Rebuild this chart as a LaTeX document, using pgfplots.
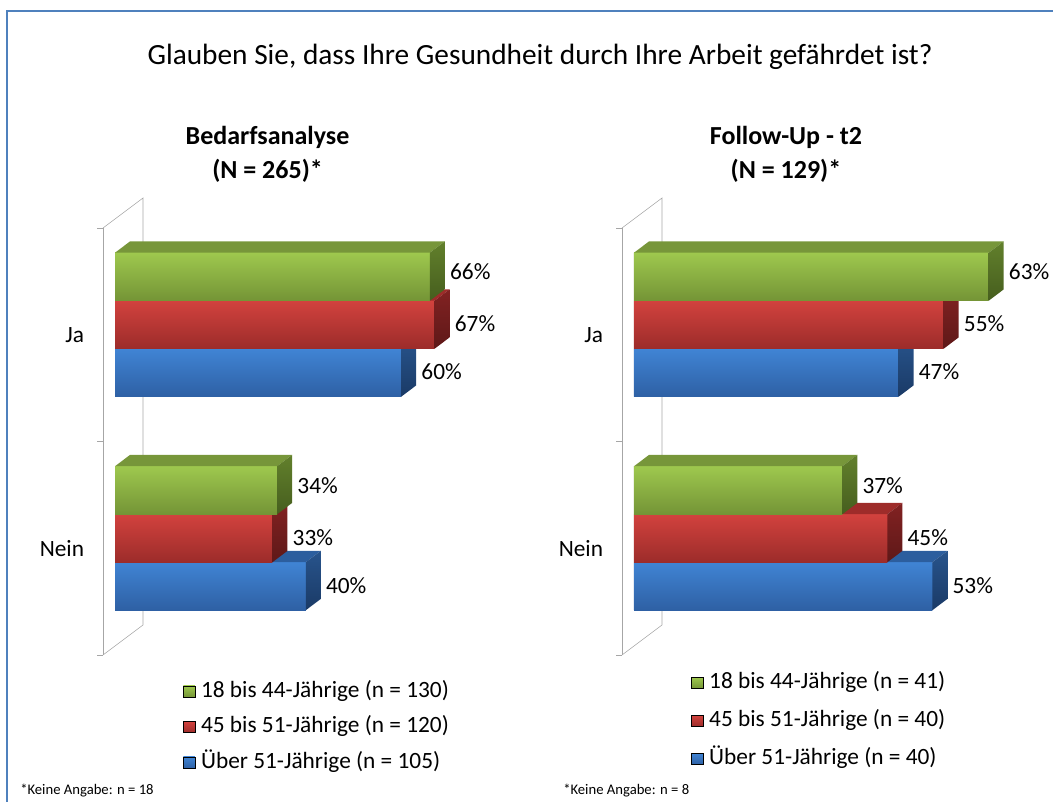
\documentclass[border=0pt]{standalone}
\usepackage{pgfplots}
\pgfplotsset{compat=1.18}
\usepackage{fontspec}
\setmainfont{Carlito}
\definecolor{gF1}{RGB}{158,200,78}
\definecolor{gF2}{RGB}{116,148,54}
\definecolor{gT}{RGB}{119,150,58}
\definecolor{gS1}{RGB}{98,128,44}
\definecolor{gS2}{RGB}{70,94,30}
\definecolor{rF1}{RGB}{210,66,62}
\definecolor{rF2}{RGB}{156,44,42}
\definecolor{rT}{RGB}{158,44,42}
\definecolor{rS1}{RGB}{130,34,34}
\definecolor{rS2}{RGB}{94,24,24}
\definecolor{bF1}{RGB}{64,132,212}
\definecolor{bF2}{RGB}{46,96,164}
\definecolor{bT}{RGB}{44,94,158}
\definecolor{bS1}{RGB}{40,84,140}
\definecolor{bS2}{RGB}{26,58,102}
\definecolor{frameblue}{RGB}{79,129,189}
\definecolor{wall}{RGB}{166,166,166}
\newcommand\bodyfont{\fontsize{17.5}{21}\selectfont}
\pgfplotsset{
  bar3d/.style={
    xbar, bar width=36pt, bar shift=0pt, draw=none, fill=#1, mark=none,
    point meta=x,
    nodes near coords={\pgfmathprintnumber{\pgfplotspointmeta}\%},
    every node near coord/.append style={anchor=west, inner sep=0pt, xshift=15pt, font=\bodyfont, text=black},
  },
  face3d/.style n args={5}{
    only marks, mark=*, scatter, point meta=x, point meta min=0, point meta max=100,
    scatter/@pre marker code/.code={%
      \pgfmathsetmacro\barlen{\pgfplotspointmetatransformed/10*\xu}%
      \shade[draw=none, top color=#1, bottom color=#2] (-\barlen pt,-18pt) rectangle (0pt,18pt);
      \fill[draw=none, #3] (-\barlen pt,18pt) -- (0pt,18pt) -- (11.25pt,26.5pt) -- (-\barlen pt+11.25pt,26.5pt) -- cycle;
      \shade[draw=none, top color=#4, bottom color=#5] (0pt,-18pt) -- (11.25pt,-9.5pt) -- (11.25pt,26.5pt) -- (0pt,18pt) -- cycle;
      \begin{scope}[opacity=0]
    },
    scatter/@post marker code/.code={\end{scope}},
  },
  panel/.style={
    anchor=south west, y=160.125pt, ymin=0.5, ymax=2.5,
    axis y line*=left, axis x line=none,
    y axis line style={wall},
    ytick={1,2}, yticklabels={Nein,Ja}, major tick length=0pt,
    minor ytick={0.5,1.5,2.5}, minor tick length=4.5pt, tick align=outside,
    minor tick style={wall},
    ticklabel style={font=\bodyfont},
    yticklabel style={inner sep=0pt, xshift=-14pt},
    clip=false,
    /pgf/number format/assume math mode=true,
    title style={anchor=center, font=\bfseries\fontsize{19.5}{26}\selectfont, align=center},
    legend cell align=left,
    legend style={anchor=north west, draw=none, fill=none, inner sep=0pt, font=\bodyfont,
      nodes={inner sep=1pt, text height=12.5pt, text depth=4pt},
      /tikz/every odd column/.append style={column sep=3.5pt}},
  },
}
\begin{document}
\begin{tikzpicture}
\useasboundingbox (0,0) rectangle (789.75pt,601.5pt);
\clip (0,0) rectangle (789.75pt,601.5pt);
\draw[frameblue, line width=1.5pt] (5.25pt,593.25pt) rectangle (810pt,-20pt);
\node[font=\fontsize{22}{26}\selectfont] at (405pt,558.75pt) {Glauben Sie, dass Ihre Gesundheit durch Ihre Arbeit gefährdet ist?};
% walls
\draw[wall] (77.25pt,430.5pt) -- (107.25pt,453pt) -- (107.25pt,132.75pt) -- (77.25pt,110.25pt);
\draw[wall] (466.5pt,430.5pt) -- (496.5pt,453pt) -- (496.5pt,132.75pt) -- (466.5pt,110.25pt);
% left panel
\def\xu{3.5775}
\begin{axis}[panel, at={(77.25pt,110.25pt)}, x=3.5775pt, xmin=-2.516, xmax=80,
  title={Bedarfsanalyse\\(N = 265)*},
  title style={at={(axis description cs:0.418,1.1534)}},
  legend style={at={(axis description cs:0.203,-0.056)}, row sep=8.2pt},
]
\addlegendimage{legend image code/.code={\shade[top color=gF1,bottom color=gF2] (0pt,-4.2pt) rectangle (8.5pt,4.3pt);}}
\addlegendentry{18 bis 44-Jährige (n = 130)}
\addlegendimage{legend image code/.code={\shade[top color=rF1,bottom color=rF2] (0pt,-4.2pt) rectangle (8.5pt,4.3pt);}}
\addlegendentry{45 bis 51-Jährige (n = 120)}
\addlegendimage{legend image code/.code={\shade[top color=bF1,bottom color=bF2] (0pt,-4.2pt) rectangle (8.5pt,4.3pt);}}
\addlegendentry{Über 51-Jährige (n = 105)}
\addplot[bar3d=bF2, every node near coord/.append style={yshift=0.5pt}]
  coordinates {(60,1.8221) (40,0.8221)};
\addplot[face3d={bF1}{bF2}{bT}{bS1}{bS2}] coordinates {(60,1.8221) (40,0.8221)};
\addplot[bar3d=rF2, every node near coord/.append style={yshift=0.5pt}]
  coordinates {(67,2.0469) (33,1.0469)};
\addplot[face3d={rF1}{rF2}{rT}{rS1}{rS2}] coordinates {(67,2.0469) (33,1.0469)};
\addplot[bar3d=gF2, every node near coord/.append style={yshift=3.5pt}]
  coordinates {(66,2.2717) (34,1.2717)};
\addplot[face3d={gF1}{gF2}{gT}{gS1}{gS2}] coordinates {(66,2.2717) (34,1.2717)};
\end{axis}
% right panel
\def\xu{4.2225}
\begin{axis}[panel, at={(466.5pt,110.25pt)}, x=4.2225pt, xmin=-2.13, xmax=76,
  title={Follow-Up - t2\\(N = 129)*},
  title style={at={(axis description cs:0.3727,1.1534)}},
  legend style={at={(axis description cs:0.157,-0.036)}, row sep=10pt},
]
\addlegendimage{legend image code/.code={\shade[top color=gF1,bottom color=gF2] (0pt,-4.2pt) rectangle (8.5pt,4.3pt);}}
\addlegendentry{18 bis 44-Jährige (n = 41)}
\addlegendimage{legend image code/.code={\shade[top color=rF1,bottom color=rF2] (0pt,-4.2pt) rectangle (8.5pt,4.3pt);}}
\addlegendentry{45 bis 51-Jährige (n = 40)}
\addlegendimage{legend image code/.code={\shade[top color=bF1,bottom color=bF2] (0pt,-4.2pt) rectangle (8.5pt,4.3pt);}}
\addlegendentry{Über 51-Jährige (n = 40)}
\addplot[bar3d=bF2, every node near coord/.append style={yshift=0.5pt}]
  coordinates {(47,1.8221) (53,0.8221)};
\addplot[face3d={bF1}{bF2}{bT}{bS1}{bS2}] coordinates {(47,1.8221) (53,0.8221)};
\addplot[bar3d=rF2, every node near coord/.append style={yshift=0.5pt}]
  coordinates {(55,2.0469) (45,1.0469)};
\addplot[face3d={rF1}{rF2}{rT}{rS1}{rS2}] coordinates {(55,2.0469) (45,1.0469)};
\addplot[bar3d=gF2, every node near coord/.append style={yshift=3.5pt}]
  coordinates {(63,2.2717) (37,1.2717)};
\addplot[face3d={gF1}{gF2}{gT}{gS1}{gS2}] coordinates {(63,2.2717) (37,1.2717)};
\end{axis}
\node[anchor=west, inner sep=0pt, font=\fontsize{11}{13}\selectfont] at (15pt,8.25pt) {*Keine Angabe: n = 18};
\node[anchor=west, inner sep=0pt, font=\fontsize{11}{13}\selectfont] at (422.25pt,8.25pt) {*Keine Angabe: n = 8};
\end{tikzpicture}
\end{document}
